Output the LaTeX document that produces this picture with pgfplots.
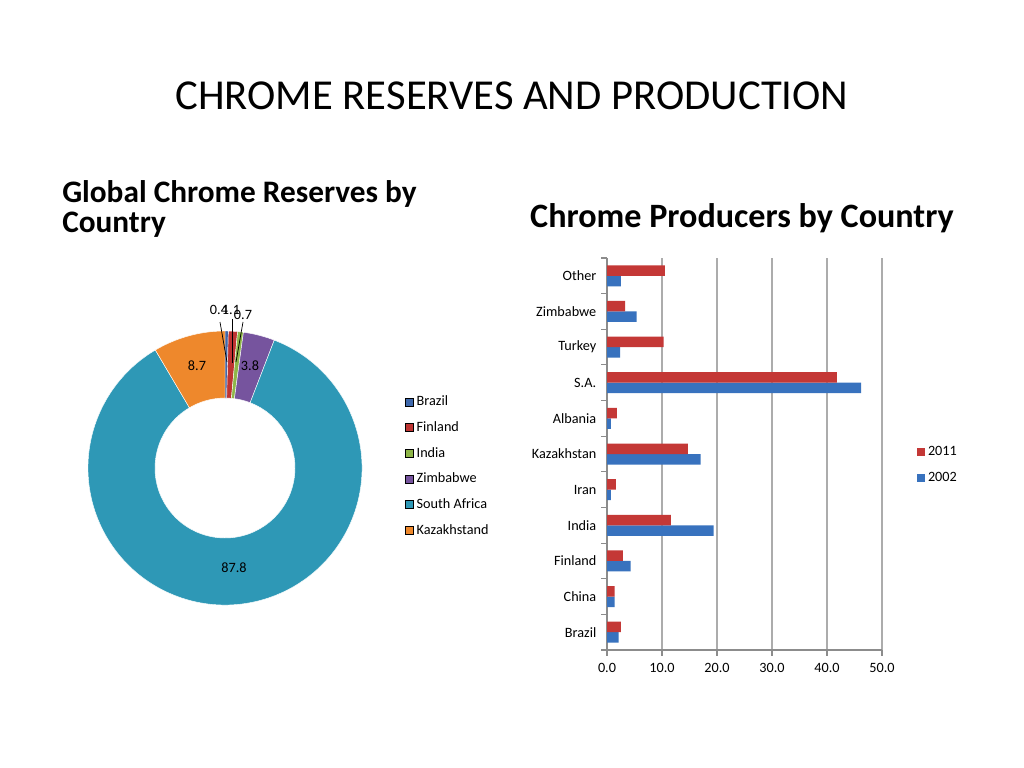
\documentclass[border=0pt]{standalone}
\usepackage{pgfplots}
\pgfplotsset{compat=1.18}
\usepackage{fontspec}
\setmainfont{Carlito}

% colours
\definecolor{cBrazil}{RGB}{62,104,172}
\definecolor{cFinland}{RGB}{190,52,50}
\definecolor{cIndia}{RGB}{142,182,72}
\definecolor{cZimbabwe}{RGB}{118,84,158}
\definecolor{cSAfrica}{RGB}{46,152,182}
\definecolor{cKaz}{RGB}{238,136,44}
\definecolor{bar2011}{RGB}{196,56,54}
\definecolor{bar2002}{RGB}{56,114,190}
\definecolor{axisgray}{RGB}{140,140,140}

% one pixel of the 1024x768 slide
\def\u{0.703125pt}

% reserves shares (donut), clockwise from 12 o'clock
\def\vBrazil{0.4}
\def\vFinland{1.1}
\def\vIndia{0.7}
\def\vZimbabwe{3.8}
\def\vSAfrica{87.8}
\def\vKaz{8.7}

\pgfplotsset{
  sq/.style={legend image code/.code={\fill[##1] (0pt,-2.8pt) rectangle (5.6pt,2.8pt);}},
}

\newcommand\sector[3]{%
  \fill[#3, draw=white, line width=0.3pt, shift={(axis cs:0,0)}]
    (#1:\Ro) arc[start angle=#1, end angle=#2, radius=\Ro]
    -- (#2:\Ri) arc[start angle=#2, end angle=#1, radius=\Ri] -- cycle;}

\begin{document}
\begin{tikzpicture}
\path[fill=white] (0,0) rectangle (720pt,-540pt);

\pgfmathsetmacro\tot{\vBrazil+\vFinland+\vIndia+\vZimbabwe+\vSAfrica+\vKaz}
\pgfmathsetmacro\k{360/\tot}
\pgfmathsetmacro\aA{90}
\pgfmathsetmacro\aB{\aA-\k*\vBrazil}
\pgfmathsetmacro\aC{\aB-\k*\vFinland}
\pgfmathsetmacro\aD{\aC-\k*\vIndia}
\pgfmathsetmacro\aE{\aD-\k*\vZimbabwe}
\pgfmathsetmacro\aF{\aE-\k*\vSAfrica}
\pgfmathsetmacro\aG{\aF-\k*\vKaz}
\def\Ro{96.33pt}
\def\Ri{49.22pt}

% titles
\node[anchor=base, font=\fontsize{30}{36}\selectfont] at ({512*\u},{-110*\u}) {CHROME RESERVES AND PRODUCTION};
\node[anchor=base west, inner sep=0, font=\fontsize{22}{26}\selectfont\bfseries] at ({62*\u},{-203*\u}) {Global Chrome Reserves by};
\node[anchor=base west, inner sep=0, font=\fontsize{22}{26}\selectfont\bfseries] at ({62*\u},{-233*\u}) {Country};
\node[anchor=base, inner sep=0, font=\fontsize{24}{28}\selectfont\bfseries] at ({742*\u},{-228*\u}) {Chrome Producers by Country};

% donut
\begin{axis}[
  at={({88*\u},{-605*\u})}, anchor=south west,
  scale only axis, width={274*\u}, height={274*\u},
  xmin=-1, xmax=1, ymin=-1, ymax=1,
  hide axis,
  legend style={at={(1.157,0.774)}, anchor=north west, draw=none, fill=none,
    font=\fontsize{10}{12}\selectfont, row sep=5.6pt, inner sep=0pt},
  legend cell align=left,
]
\addlegendimage{sq, fill=cBrazil}\addlegendentry{Brazil}
\addlegendimage{sq, fill=cFinland}\addlegendentry{Finland}
\addlegendimage{sq, fill=cIndia}\addlegendentry{India}
\addlegendimage{sq, fill=cZimbabwe}\addlegendentry{Zimbabwe}
\addlegendimage{sq, fill=cSAfrica}\addlegendentry{South Africa}
\addlegendimage{sq, fill=cKaz}\addlegendentry{Kazakhstand}
\sector{\aA}{\aB}{cBrazil}
\sector{\aB}{\aC}{cFinland}
\sector{\aC}{\aD}{cIndia}
\sector{\aD}{\aE}{cZimbabwe}
\sector{\aE}{\aF}{cSAfrica}
\sector{\aF}{\aG}{cKaz}
\end{axis}

% donut data labels
\begin{scope}[every node/.style={font=\fontsize{10}{12}\selectfont, inner sep=0}]
\draw[black, line width=0.5pt] ({220*\u},{-322*\u}) -- ({227*\u},{-362*\u});
\draw[black, line width=0.5pt] ({232*\u},{-319*\u}) -- ({232*\u},{-363*\u});
\draw[black, line width=0.5pt] ({243*\u},{-322*\u}) -- ({236*\u},{-362*\u});
\node at ({219*\u},{-310*\u}) {0.4};
\node at ({231*\u},{-310*\u}) {1.1};
\node at ({243*\u},{-315*\u}) {0.7};
\node at ({197*\u},{-366*\u}) {8.7};
\node at ({250*\u},{-366*\u}) {3.8};
\node at ({234*\u},{-568*\u}) {87.8};
\end{scope}

% producers bar chart
\begin{axis}[
  at={({607*\u},{-650*\u})}, anchor=south west,
  scale only axis, width={275*\u}, height={392*\u},
  xbar=0pt, bar width={10.5*\u},
  xmin=0, xmax=50, ymin=-0.5, ymax=10.5,
  xtick={0,10,...,50},
  ytick={0,...,10},
  yticklabels={Brazil,China,Finland,India,Iran,Kazakhstan,Albania,S.A.,Turkey,Zimbabwe,Other},
  minor ytick={-0.5,0.5,...,10.5},
  every major y tick/.append style={draw=none},
  axis x line*=bottom, axis y line*=left,
  axis line style={axisgray, line width=0.8pt},
  tick style={axisgray, line width=0.8pt},
  tick align=outside, major tick length=4pt, minor tick length=4pt,
  xmajorgrids, grid style={gray!65, line width=1pt},
  tick label style={font=\fontsize{10}{12}\selectfont},
  xticklabel style={yshift=-2pt},
  /pgf/number format/assume math mode=true,
  /pgf/number format/.cd, fixed, fixed zerofill, precision=1, /pgfplots/.cd,
  reverse legend,
  legend style={at={(1.127,0.527)}, anchor=north west, draw=none, fill=none,
    font=\fontsize{10}{12}\selectfont, row sep=6.4pt, inner sep=0pt},
  legend cell align=left,
]
\addplot[fill=bar2002, draw=none, sq] coordinates {
  (2.1,0) (1.4,1) (4.3,2) (19.4,3) (0.7,4) (17.0,5) (0.7,6) (46.2,7) (2.4,8) (5.4,9) (2.5,10)};
\addlegendentry{2002}
\addplot[fill=bar2011, draw=none, sq] coordinates {
  (2.5,0) (1.4,1) (2.9,2) (11.6,3) (1.6,4) (14.7,5) (1.8,6) (41.8,7) (10.3,8) (3.3,9) (10.5,10)};
\addlegendentry{2011}
\end{axis}
\end{tikzpicture}
\end{document}
